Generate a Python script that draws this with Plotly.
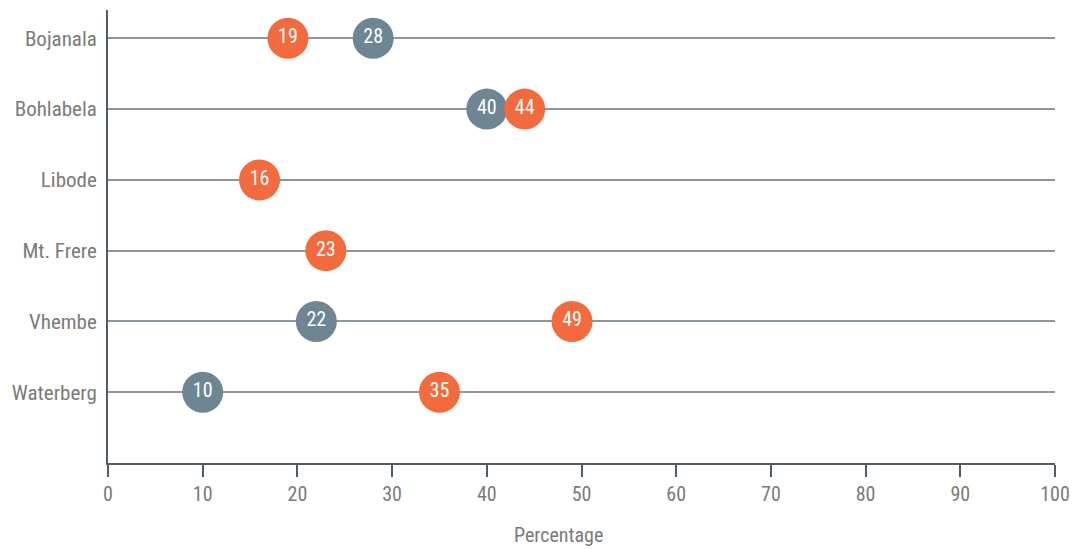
import plotly.graph_objects as go

# Districts, top to bottom
districts = ["Bojanala", "Bohlabela", "Libode", "Mt. Frere", "Vhembe", "Waterberg"]

# Grey series (None where the district has no value)
grey_values = [28, 40, None, None, 22, 10]
# Orange series
orange_values = [19, 44, 16, 23, 49, 35]

x_ticks = [0, 10, 20, 30, 40, 50, 60, 70, 80, 90, 100]

GREY = "#6E8594"
ORANGE = "#F26B3F"
AXIS = "#505C68"
GRID = "#8C969F"
TEXT = "#7A7A7A"
FONT = "Liberation Sans Narrow, Roboto Condensed, Arial Narrow, sans-serif"

rows = list(range(len(districts)))


def series(values, color):
    xs = [v for v in values if v is not None]
    ys = [r for r, v in zip(rows, values) if v is not None]
    return go.Scatter(
        x=xs,
        y=ys,
        mode="markers+text",
        text=[str(v) for v in xs],
        textposition="middle center",
        textfont=dict(color="white", size=20, family=FONT),
        marker=dict(size=41, color=color, line=dict(width=0)),
        cliponaxis=False,
        hoverinfo="skip",
        showlegend=False,
    )


fig = go.Figure()
fig.add_trace(series(grey_values, GREY))
fig.add_trace(series(orange_values, ORANGE))

fig.update_layout(
    width=1080,
    height=549,
    margin=dict(l=108, r=19, t=10, b=86),
    paper_bgcolor="white",
    plot_bgcolor="white",
    font=dict(family=FONT, color=TEXT, size=20),
    xaxis=dict(
        range=[0, 100],
        tickvals=x_ticks,
        ticktext=[str(t) for t in x_ticks],
        showgrid=False,
        zeroline=False,
        showline=True,
        linecolor=AXIS,
        linewidth=2,
        ticks="outside",
        ticklen=12,
        tickwidth=2,
        tickcolor=AXIS,
        tickfont=dict(size=20, color=TEXT, family=FONT),
    ),
    yaxis=dict(
        range=[6, -0.4],
        tickvals=rows,
        ticktext=districts,
        showgrid=True,
        gridcolor=GRID,
        gridwidth=1.5,
        zeroline=False,
        showline=True,
        linecolor=AXIS,
        linewidth=2,
        ticks="",
        ticklabelstandoff=5,
        tickfont=dict(size=21, color=TEXT, family=FONT),
    ),
    annotations=[
        dict(
            text="Percentage",
            xref="paper",
            yref="paper",
            x=0.476,
            y=0,
            yshift=-72,
            showarrow=False,
            xanchor="center",
            yanchor="middle",
            font=dict(size=20, color=TEXT, family=FONT),
        )
    ],
)

fig.write_html("out.html")
